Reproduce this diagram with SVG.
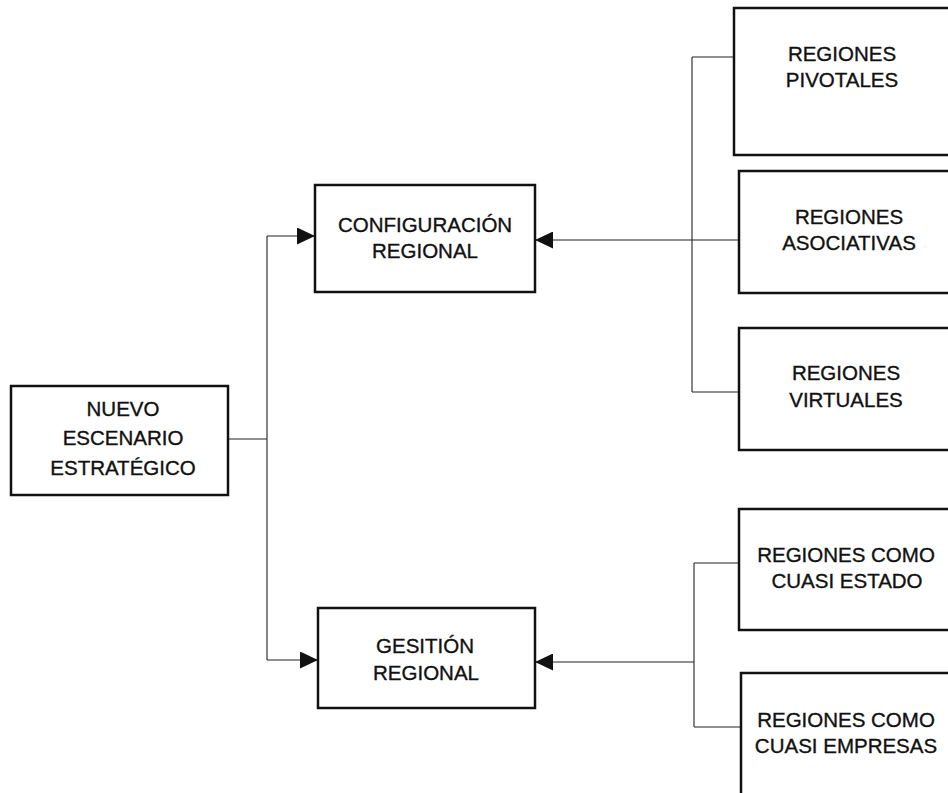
<svg xmlns="http://www.w3.org/2000/svg" width="948" height="793" viewBox="0 0 948 793">
  <style>
    .box { fill: #ffffff; stroke: #111111; stroke-width: 2.5; }
    .lbl { font-family: "Liberation Sans", Arial, sans-serif; font-size: 20.5px; fill: #111111; stroke: #111111; stroke-width: 0.35; text-anchor: middle; }
    .wire { fill: none; stroke: #222222; stroke-width: 1.1; }
  </style>
  <defs>
    <marker id="arrow" markerWidth="19" markerHeight="17" refX="18" refY="8.5" orient="auto" markerUnits="userSpaceOnUse">
      <path d="M0,0 L18,8.5 L0,17 Z" fill="#111111"/>
    </marker>
  </defs>
  <rect x="0" y="0" width="948" height="793" fill="#ffffff"/>

  <g id="connectors">
    <!-- root to the two branches -->
    <path class="wire" d="M228,439 H267"/>
    <path class="wire" d="M267,236 V660"/>
    <path class="wire" d="M267,236 H315" marker-end="url(#arrow)"/>
    <path class="wire" d="M267,660 H318" marker-end="url(#arrow)"/>
    <!-- regional configuration types -->
    <path class="wire" d="M692,57 V392"/>
    <path class="wire" d="M692,57 H734"/>
    <path class="wire" d="M692,392 H739"/>
    <path class="wire" d="M739,240 H535" marker-end="url(#arrow)"/>
    <!-- regional management types -->
    <path class="wire" d="M694,563 V727"/>
    <path class="wire" d="M694,563 H739"/>
    <path class="wire" d="M694,727 H741"/>
    <path class="wire" d="M694,662 H535" marker-end="url(#arrow)"/>
  </g>

  <g id="nuevo-escenario">
    <rect class="box" x="11" y="386" width="217" height="109"/>
    <text class="lbl" x="123" y="416">NUEVO</text>
    <text class="lbl" x="123" y="445">ESCENARIO</text>
    <text class="lbl" x="123" y="475">ESTRATÉGICO</text>
  </g>

  <g id="configuracion-regional">
    <rect class="box" x="315" y="185" width="220" height="107"/>
    <text class="lbl" x="425" y="232">CONFIGURACIÓN</text>
    <text class="lbl" x="425" y="258">REGIONAL</text>
  </g>

  <g id="gestion-regional">
    <rect class="box" x="318" y="608" width="217" height="100"/>
    <text class="lbl" x="425" y="653">GESITIÓN</text>
    <text class="lbl" x="426" y="680">REGIONAL</text>
  </g>

  <g id="regiones-pivotales">
    <rect class="box" x="734" y="8" width="230" height="147"/>
    <text class="lbl" x="842" y="61">REGIONES</text>
    <text class="lbl" x="842" y="87">PIVOTALES</text>
  </g>

  <g id="regiones-asociativas">
    <rect class="box" x="739" y="171" width="225" height="122"/>
    <text class="lbl" x="849" y="224">REGIONES</text>
    <text class="lbl" x="849" y="250">ASOCIATIVAS</text>
  </g>

  <g id="regiones-virtuales">
    <rect class="box" x="739" y="328" width="225" height="122"/>
    <text class="lbl" x="846" y="380">REGIONES</text>
    <text class="lbl" x="846" y="407">VIRTUALES</text>
  </g>

  <g id="regiones-cuasi-estado">
    <rect class="box" x="739" y="509" width="225" height="121"/>
    <text class="lbl" x="846" y="562">REGIONES COMO</text>
    <text class="lbl" x="847" y="588">CUASI ESTADO</text>
  </g>

  <g id="regiones-cuasi-empresas">
    <rect class="box" x="741" y="673" width="225" height="140"/>
    <text class="lbl" x="846" y="727">REGIONES COMO</text>
    <text class="lbl" x="846" y="753">CUASI EMPRESAS</text>
  </g>
</svg>
